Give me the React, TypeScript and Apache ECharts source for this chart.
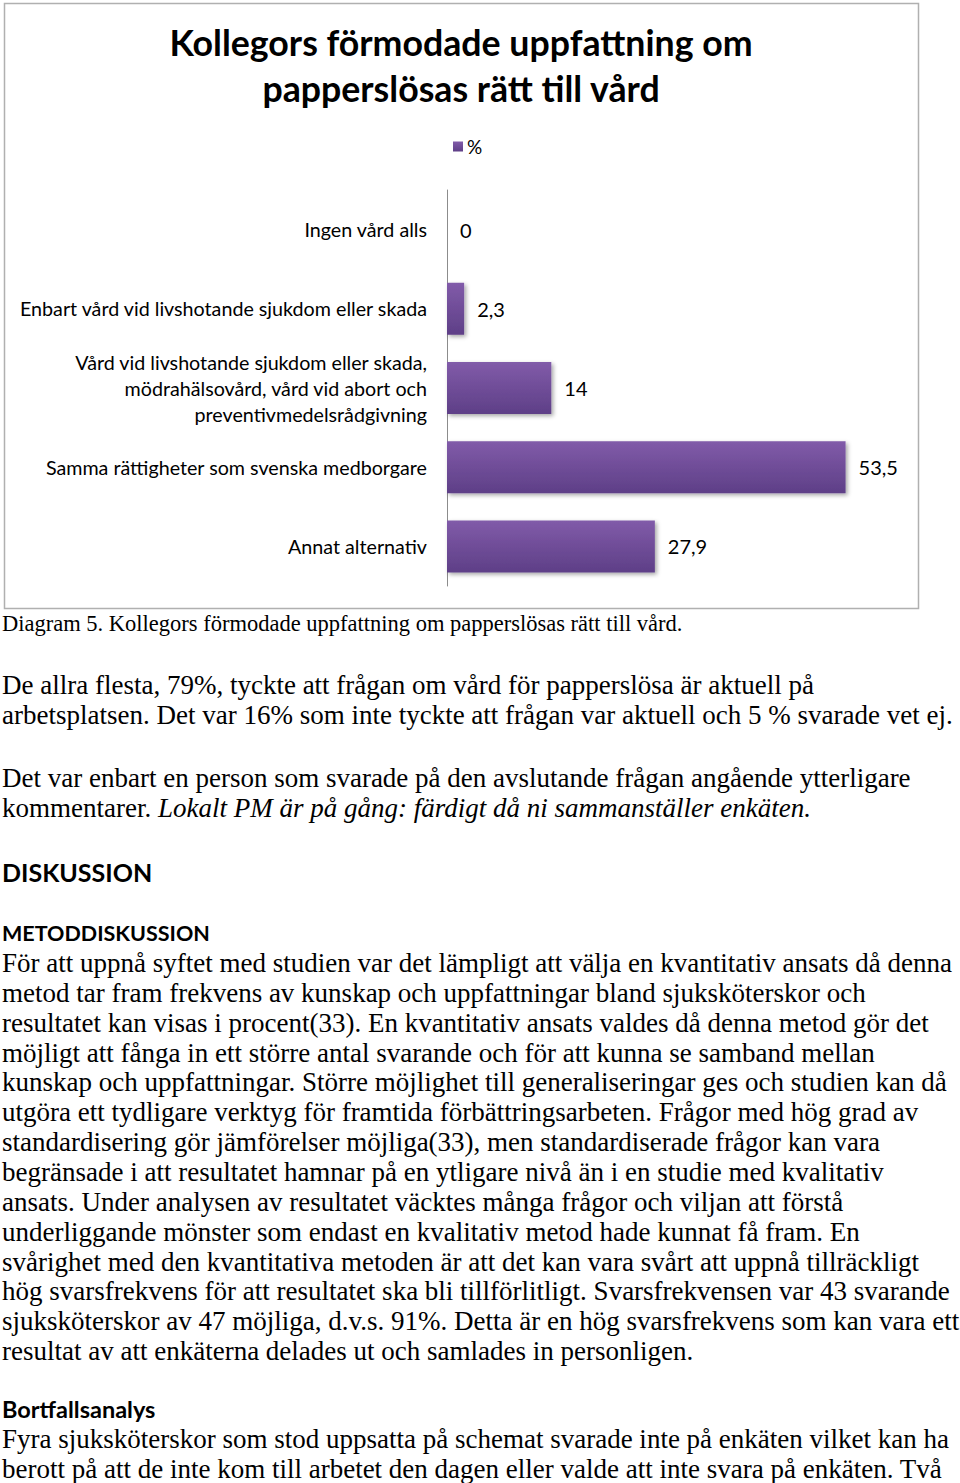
import React, { useEffect, useRef } from "react";
import * as echarts from "echarts";

const categories = [
  "Ingen vård alls",
  "Enbart vård vid livshotande sjukdom eller skada",
  "Vård vid livshotande sjukdom eller skada,\nmödrahälsovård, vård vid abort och\npreventivmedelsrådgivning",
  "Samma rättigheter som svenska medborgare",
  "Annat alternativ",
];
const values = [0, 2.3, 14, 53.5, 27.9];
const seriesName = "%";
const titleLines = ["Kollegors förmodade uppfattning om", "papperslösas rätt till vård"];
const caption = "Diagram 5. Kollegors förmodade uppfattning om papperslösas rätt till vård.";
const para1 = [
  "De allra flesta, 79%, tyckte att frågan om vård för papperslösa är aktuell på",
  "arbetsplatsen. Det var 16% som inte tyckte att frågan var aktuell och 5 % svarade vet ej.",
];
const para2a = "Det var enbart en person som svarade på den avslutande frågan angående ytterligare";
const para2bNormal = "kommentarer. ";
const para2bItalic = "Lokalt PM är på gång: färdigt då ni sammanställer enkäten.";
const heading1 = "DISKUSSION";
const heading2 = "METODDISKUSSION";
const para3 = [
  "För att uppnå syftet med studien var det lämpligt att välja en kvantitativ ansats då denna",
  "metod tar fram frekvens av kunskap och uppfattningar bland sjuksköterskor och",
  "resultatet kan visas i procent(33). En kvantitativ ansats valdes då denna metod gör det",
  "möjligt att fånga in ett större antal svarande och för att kunna se samband mellan",
  "kunskap och uppfattningar. Större möjlighet till generaliseringar ges och studien kan då",
  "utgöra ett tydligare verktyg för framtida förbättringsarbeten. Frågor med hög grad av",
  "standardisering gör jämförelser möjliga(33), men standardiserade frågor kan vara",
  "begränsade i att resultatet hamnar på en ytligare nivå än i en studie med kvalitativ",
  "ansats. Under analysen av resultatet väcktes många frågor och viljan att förstå",
  "underliggande mönster som endast en kvalitativ metod hade kunnat få fram. En",
  "svårighet med den kvantitativa metoden är att det kan vara svårt att uppnå tillräckligt",
  "hög svarsfrekvens för att resultatet ska bli tillförlitligt. Svarsfrekvensen var 43 svarande",
  "sjuksköterskor av 47 möjliga, d.v.s. 91%. Detta är en hög svarsfrekvens som kan vara ett",
  "resultat av att enkäterna delades ut och samlades in personligen.",
];
const heading3 = "Bortfallsanalys";
const para4 = [
  "Fyra sjuksköterskor som stod uppsatta på schemat svarade inte på enkäten vilket kan ha",
  "berott på att de inte kom till arbetet den dagen eller valde att inte svara på enkäten. Två",
];

const SERIF = "'Liberation Serif', serif";
const SANS = "Lato, 'Noto Sans', sans-serif";
const BODY_SIZE = 27;

export default function App() {
  const ref = useRef<HTMLDivElement>(null);
  useEffect(() => {
    if (!ref.current) return;
    const chart = echarts.init(ref.current, null, { renderer: "svg" });

    const bodyText = (text: string, y: number, size = BODY_SIZE) => ({
      type: "text",
      style: {
        text,
        x: 2,
        y,
        fontFamily: SERIF,
        fontSize: size,
        fill: "#000",
        textVerticalAlign: "middle",
      },
    });
    const headText = (text: string, y: number, size: number) => ({
      type: "text",
      style: {
        text,
        x: 2,
        y,
        fontFamily: SANS,
        fontWeight: "bold",
        fontSize: size,
        fill: "#000",
        textVerticalAlign: "middle",
      },
    });

    const graphics: any[] = [
      {
        type: "rect",
        shape: { x: 4.5, y: 3.5, width: 914, height: 605 },
        style: { fill: "none", stroke: "#b0b0b0", lineWidth: 1.5 },
      },
      {
        type: "text",
        style: {
          text: caption,
          x: 2,
          y: 623,
          fontFamily: SERIF,
          fontSize: 22.5,
          fill: "#000",
          textVerticalAlign: "middle",
        },
      },
    ];
    para1.forEach((l, i) => graphics.push(bodyText(l, 685 + i * 30)));
    graphics.push(bodyText(para2a, 778));
    graphics.push({
      type: "text",
      style: {
        text: `{n|${para2bNormal}}{i|${para2bItalic}}`,
        x: 2,
        y: 808,
        textVerticalAlign: "middle",
        rich: {
          n: { fontFamily: SERIF, fontSize: BODY_SIZE, fill: "#000" },
          i: { fontFamily: SERIF, fontSize: BODY_SIZE, fill: "#000", fontStyle: "italic" },
        },
      },
    });
    graphics.push(headText(heading1, 872, 25));
    graphics.push(headText(heading2, 933, 21.5));
    para3.forEach((l, i) => graphics.push(bodyText(l, 963 + i * 29.85)));
    graphics.push(headText(heading3, 1409, 23.5));
    para4.forEach((l, i) => graphics.push(bodyText(l, 1439 + i * 29.85)));

    chart.setOption({
      animation: false,
      backgroundColor: "#fff",
      title: {
        text: titleLines.join("\n"),
        left: 456,
        top: 14,
        textAlign: "center",
        textStyle: {
          fontFamily: SANS,
          fontWeight: "bold",
          fontSize: 35.7,
          lineHeight: 46,
          color: "#000",
        },
      },
      legend: {
        left: 448,
        top: 132,
        itemWidth: 10,
        itemHeight: 10,
        itemGap: 5,
        icon: "rect",
        data: [seriesName],
        textStyle: { fontFamily: SANS, fontSize: 19, color: "#000", padding: [0, 0, 0, -1] },
      },
      grid: { left: 447, top: 190, width: 447, height: 396, containLabel: false },
      xAxis: {
        type: "value",
        min: 0,
        max: 60,
        show: false,
      },
      yAxis: {
        type: "category",
        inverse: true,
        data: categories,
        axisLine: { show: true, lineStyle: { color: "#8c8c8c", width: 1 } },
        axisTick: { show: false },
        axisLabel: {
          margin: 20,
          fontFamily: SANS,
          fontSize: 19.7,
          lineHeight: 26,
          color: "#000",
          align: "right",
        },
      },
      series: [
        {
          name: seriesName,
          type: "bar",
          data: values,
          barWidth: 52,
          itemStyle: {
            color: new echarts.graphic.LinearGradient(0, 0, 0, 1, [
              { offset: 0, color: "#815ba9" },
              { offset: 1, color: "#5e3f87" },
            ]),
            shadowColor: "rgba(0,0,0,0.35)",
            shadowBlur: 4,
            shadowOffsetX: 2,
            shadowOffsetY: 2,
          },
          label: {
            show: true,
            position: "right",
            distance: 13,
            fontFamily: SANS,
            fontSize: 20,
            color: "#000",
            formatter: (p: any) => String(p.value).replace(".", ","),
          },
        },
      ],
      graphic: graphics,
    });
    return () => chart.dispose();
  }, []);
  return (
    <div
      ref={ref}
      style={{ position: "absolute", left: 0, top: 0, width: 960, height: 1483 }}
    />
  );
}
